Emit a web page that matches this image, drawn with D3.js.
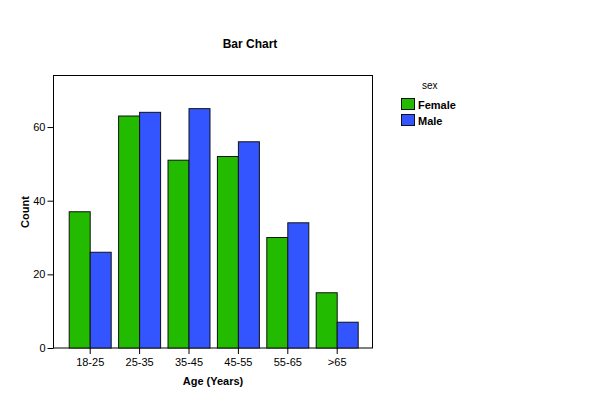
<!DOCTYPE html>
<html>
<head>
<meta charset="utf-8">
<script src="https://cdn.jsdelivr.net/npm/d3@7"></script>
<style>
html,body{margin:0;padding:0;background:#fff;}
svg{display:block;font-family:"Liberation Sans",Arial,sans-serif;}
</style>
</head>
<body>
<svg id="chart" width="605" height="414"></svg>
<script>
const categories = ["18-25", "25-35", "35-45", "45-55", "55-65", ">65"];
const seriesNames = ["Female", "Male"];
const female = [37, 63, 51, 52, 30, 15];
const male = [26, 64, 65, 56, 34, 7];
const yTicks = [0, 20, 40, 60];
const colors = ["#22bb00", "#3355ff"];

const svg = d3.select("#chart");
const frame = {left: 53.5, right: 372.5, top: 75.5, bottom: 348};

const x = d3.scaleBand().domain(categories).range([65.5, 361.9]).paddingInner(0.15).paddingOuter(0.075);
const xs = d3.scaleBand().domain(seriesNames).range([0, x.bandwidth()]);
const y = d3.scaleLinear().domain([0, 74]).range([frame.bottom, frame.top]);

// frame
svg.append("rect")
  .attr("x", frame.left).attr("y", frame.top)
  .attr("width", frame.right - frame.left).attr("height", frame.bottom - frame.top)
  .attr("fill", "none").attr("stroke", "#000").attr("stroke-width", 1);

const data = categories.map((c, i) => ({cat: c, values: [female[i], male[i]]}));

const g = svg.append("g");
data.forEach(d => {
  seriesNames.forEach((s, j) => {
    g.append("rect")
      .attr("x", x(d.cat) + xs(s))
      .attr("y", y(d.values[j]))
      .attr("width", xs.bandwidth())
      .attr("height", y(0) - y(d.values[j]))
      .attr("fill", colors[j])
      .attr("stroke", "#111")
      .attr("stroke-width", 1);
  });
});

// y axis
const yAxis = d3.axisLeft(y).tickValues(yTicks).tickSize(6).tickPadding(2).tickFormat(d3.format("d"));
const yg = svg.append("g").attr("transform", `translate(${frame.left},0)`).call(yAxis);
yg.select(".domain").remove();
yg.selectAll("text").attr("font-size", 11).attr("fill", "#000").attr("font-family", "Liberation Sans, Arial, sans-serif");

// x axis
const xAxis = d3.axisBottom(x).tickSize(6).tickPadding(4);
const xg = svg.append("g").attr("transform", `translate(0,${frame.bottom})`).call(xAxis);
xg.select(".domain").remove();
xg.selectAll("text").attr("font-size", 11).attr("fill", "#000").attr("font-family", "Liberation Sans, Arial, sans-serif");

// titles
svg.append("text").attr("x", 250).attr("y", 48).attr("text-anchor", "middle")
  .attr("font-size", 12).attr("font-weight", "bold").text("Bar Chart");
svg.append("text").attr("x", 213).attr("y", 385).attr("text-anchor", "middle")
  .attr("font-size", 11).attr("font-weight", "bold").text("Age (Years)");
svg.append("text").attr("transform", "translate(29,212) rotate(-90)").attr("text-anchor", "middle")
  .attr("font-size", 11).attr("font-weight", "bold").text("Count");

// legend
svg.append("text").attr("x", 422).attr("y", 89).attr("font-size", 10).text("sex");
seriesNames.forEach((s, j) => {
  svg.append("rect").attr("x", 401.5).attr("y", 98.5 + j * 16).attr("width", 13).attr("height", 11)
    .attr("fill", colors[j]).attr("stroke", "#111").attr("stroke-width", 1);
  svg.append("text").attr("x", 418).attr("y", 108.5 + j * 16).attr("font-size", 11)
    .attr("font-weight", "bold").text(s);
});
</script>
</body>
</html>
